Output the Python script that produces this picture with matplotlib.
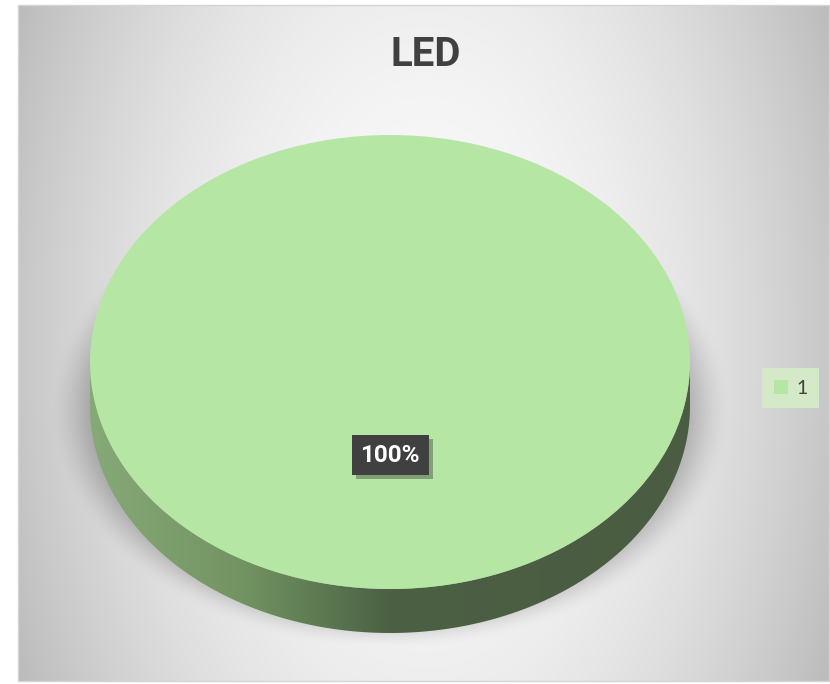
import numpy as np
import matplotlib
matplotlib.use('Agg')
import matplotlib.pyplot as plt
import matplotlib.patheffects as pe
from matplotlib.path import Path
from matplotlib.patches import PathPatch, Rectangle
from matplotlib.colors import LinearSegmentedColormap

plt.rcParams['font.family'] = ['Lato', 'DejaVu Sans']
bold_family = ['Roboto', 'DejaVu Sans']

# chart data
labels = ['1']
values = [1]
title = 'LED'

top_color = '#b5e6a3'
W, H = 830, 684

fig = plt.figure(figsize=(W / 100, H / 100), dpi=100)
fig.patch.set_facecolor('white')

# background layer in pixel coordinates
bg = fig.add_axes([0, 0, 1, 1])
bg.set_xlim(0, W)
bg.set_ylim(H, 0)
bg.axis('off')

x0, x1, y0, y1 = 18, 830, 5, 681
X, Y = np.meshgrid(np.arange(x0, x1) + 0.5, np.arange(y0, y1) + 0.5)
r2 = ((X - 424) / 400) ** 2 + ((Y - 340) / 700) ** 2
shade = 250 - 50 * r2

# soft drop shadow under the pie
rs = np.sqrt(((X - 390) / 340) ** 2 + ((Y - 410) / 240) ** 2)
t = np.clip((1.0 - rs) / 0.18, 0, 1)
shadow = t * t * (3 - 2 * t)
shade = shade - 62 * shadow
img = np.clip(shade, 0, 255) / 255
bg.imshow(np.dstack([img, img, img]), extent=(x0, x1, y1, y0),
          interpolation='bilinear', zorder=0)
bg.add_patch(Rectangle((x0, y0), x1 - x0 - 1, y1 - y0, fill=False,
                       edgecolor='#d4d4d4', lw=1, zorder=1))

# pie axes: unit circle squashed into the top ellipse
cx, cy, a, b = 390, 362, 300, 227
depth = 44 / b
bottom_px = cy + b + 44
ax = fig.add_axes([(cx - a) / W, (H - bottom_px) / H, 2 * a / W, (b * 2 + 44) / H])
ax.patch.set_alpha(0)

wedges, texts, autotexts = ax.pie(values, colors=[top_color], startangle=90,
                                  autopct='%1.0f%%', pctdistance=0.41,
                                  wedgeprops=dict(linewidth=0))
ax.set_aspect('auto')
ax.set_xlim(-1, 1)
ax.set_ylim(-1 - depth, 1)
for w in wedges:
    w.set_zorder(3)

# side of the disc: lower rim between the top face and the base
th = np.linspace(np.pi, 2 * np.pi, 200)
rim_top = np.column_stack([np.cos(th), np.sin(th)])
rim_bot = np.column_stack([np.cos(th[::-1]), np.sin(th[::-1]) - depth])
side = Path(np.vstack([rim_top, rim_bot, rim_top[:1]]), closed=True)
side_patch = PathPatch(side, facecolor='none', edgecolor='none')
ax.add_patch(side_patch)
side_cmap = LinearSegmentedColormap.from_list(
    'side', [(0, '#86a978'), (0.25, '#739462'), (0.4, '#5a7650'),
             (0.5, '#4c6044'), (1.0, '#4a5c41')])
grad = np.linspace(0, 1, 256).reshape(1, -1)
side_img = ax.imshow(grad, cmap=side_cmap, extent=(-1, 1, -1 - depth, 0),
                     aspect='auto', zorder=2, interpolation='bilinear')
side_img.set_clip_path(side_patch)

for at in autotexts:
    at.set_color('white')
    at.set_family(bold_family)
    at.set_fontsize(17.5)
    at.set_fontweight('bold')
    at.set_zorder(5)
    at.set_bbox(dict(boxstyle='square,pad=0.36', facecolor='#404040',
                     edgecolor='none'))
    at.get_bbox_patch().set_path_effects(
        [pe.SimplePatchShadow(offset=(3, -3), shadow_rgbFace='#202020', alpha=0.35),
         pe.Normal()])

fig.text(426 / W, 1 - 55 / H, title, ha='center', va='center',
         fontsize=29, fontweight='bold', color='#404040', family=bold_family)

leg = ax.legend(wedges, labels, loc='center left',
                bbox_to_anchor=(762 / W, 1 - 388 / H), bbox_transform=fig.transFigure,
                frameon=True, fancybox=False, fontsize=14,
                handlelength=0.75, handleheight=0.75, handletextpad=0.4,
                borderpad=0.6, borderaxespad=0)
frame = leg.get_frame()
frame.set_facecolor('#d3e9c8')
frame.set_edgecolor('none')
frame.set_alpha(1)
for txt in leg.get_texts():
    txt.set_color('#404040')

fig.savefig('out.png', dpi=100)
